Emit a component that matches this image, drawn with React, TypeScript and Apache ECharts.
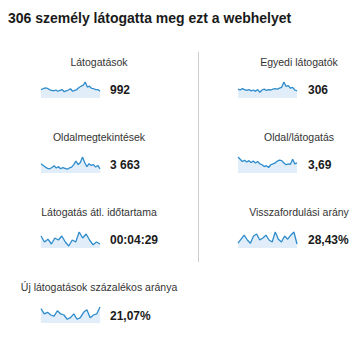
import React, { useEffect, useRef } from "react";
import * as echarts from "echarts";

const title = "306 személy látogatta meg ezt a webhelyet";

const labels = [
  "Látogatások",
  "Egyedi látogatók",
  "Oldalmegtekintések",
  "Oldal/látogatás",
  "Látogatás átl. időtartama",
  "Visszafordulási arány",
  "Új látogatások százalékos aránya",
];

const values = ["992", "306", "3 663", "3,69", "00:04:29", "28,43%", "21,07%"];

const visits = [20, 22, 24, 23, 20, 18, 17, 19, 16, 18, 20, 15, 17, 19, 22, 16, 18, 20, 25, 28, 30, 38, 26, 28, 23, 22, 20, 20, 16];
const uniqueVisitors = [20, 18, 21, 19, 17, 19, 16, 18, 15, 19, 13, 18, 20, 17, 19, 18, 20, 21, 20, 22, 24, 36, 26, 28, 22, 24, 18, 16];
const pageviews = [22, 18, 14, 11, 10, 13, 17, 12, 15, 10, 13, 11, 9, 12, 14, 20, 28, 20, 25, 38, 25, 15, 22, 18, 20, 14, 18, 10];
const pagesPerVisit = [35, 30, 25, 28, 24, 27, 23, 26, 22, 25, 20, 18, 14, 16, 12, 18, 20, 22, 26, 28, 27, 22, 18, 20, 19, 30, 20, 22];
const avgDuration = [30, 15, 22, 10, 25, 20, 30, 15, 5, 20, 15, 40, 25, 35, 20, 8, 15, 10];
const bounceRate = [12, 22, 32, 20, 12, 30, 35, 20, 25, 32, 20, 15, 40, 22, 15, 30, 22, 32, 40, 10];
const newVisitsPct = [27, 17, 20, 15, 13, 23, 17, 15, 7, 10, 17, 7, 10, 20, 25, 10, 15, 17, 30];

const seriesData = [visits, uniqueVisitors, pageviews, pagesPerVisit, avgDuration, bounceRate, newVisitsPct];

export default function App() {
  const ref = useRef<HTMLDivElement>(null);
  useEffect(() => {
    if (!ref.current) return;
    const chart = echarts.init(ref.current, null, { renderer: "svg" });
    const rowTop = [82, 157, 232, 307];
    const labelY = [62, 137, 212, 287];
    const valueY = [90, 165, 240, 316];
    const grids: any[] = [];
    const xAxes: any[] = [];
    const yAxes: any[] = [];
    const series: any[] = [];
    const graphics: any[] = [];
    graphics.push({
      type: "text",
      left: 8,
      top: 11,
      style: { text: title, fontFamily: "Liberation Sans", fontSize: 14, fontWeight: "bold", fill: "#1a1a1a" },
    });
    graphics.push({
      type: "line",
      shape: { x1: 198.5, y1: 52, x2: 198.5, y2: 262 },
      style: { stroke: "#cccccc", lineWidth: 1 },
    });
    seriesData.forEach((d, i) => {
      const row = Math.floor(i / 2);
      const col = i % 2;
      const gl = col === 0 ? 41 : 238;
      grids.push({ left: gl, top: rowTop[row], width: 59, height: 16 });
      xAxes.push({ type: "category", gridIndex: i, show: false, boundaryGap: false, data: d.map((_, k) => k) });
      yAxes.push({ type: "value", gridIndex: i, show: false, min: 0, max: "dataMax" });
      series.push({
        type: "line",
        xAxisIndex: i,
        yAxisIndex: i,
        data: d,
        symbol: "none",
        lineStyle: { color: "#2f8ccc", width: 1.3 },
        areaStyle: { color: "#e1eefa", opacity: 1 },
      });
      graphics.push({
        type: "text",
        x: col === 0 ? 99 : 299,
        y: labelY[row],
        style: {
          text: labels[i],
          fontFamily: "Liberation Sans",
          fontSize: 10.5,
          fill: "#333333",
          textAlign: "center",
          textVerticalAlign: "middle",
        },
      });
      graphics.push({
        type: "text",
        x: col === 0 ? 110 : 308,
        y: valueY[row],
        style: {
          text: values[i],
          fontFamily: "Liberation Sans",
          fontSize: 12,
          fontWeight: "bold",
          fill: "#1a1a1a",
          textAlign: "left",
          textVerticalAlign: "middle",
        },
      });
    });
    chart.setOption({
      animation: false,
      backgroundColor: "#ffffff",
      grid: grids,
      xAxis: xAxes,
      yAxis: yAxes,
      series,
      graphic: graphics,
    });
    return () => chart.dispose();
  }, []);
  return <div ref={ref} style={{ position: "absolute", left: 0, top: 0, width: 363, height: 355 }} />;
}
